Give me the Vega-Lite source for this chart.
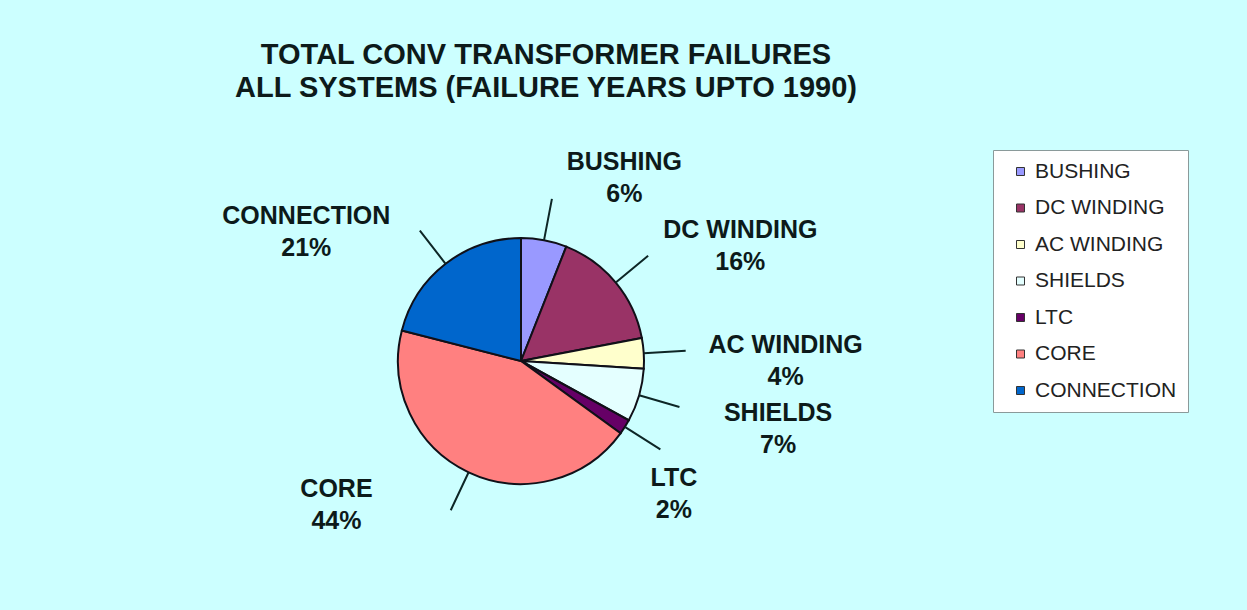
{
  "$schema": "https://vega.github.io/schema/vega-lite/v6.json",
  "width": 1042,
  "height": 498,
  "autosize": {"type": "none"},
  "padding": {"left": 0, "top": 112, "right": 205, "bottom": 0},
  "background": "#CCFFFF",
  "title": {
    "text": ["TOTAL CONV TRANSFORMER FAILURES", "ALL SYSTEMS (FAILURE YEARS UPTO 1990)"],
    "font": "Liberation Sans",
    "fontSize": 29,
    "fontWeight": "bold",
    "color": "#0d1a1a",
    "lineHeight": 33,
    "anchor": "middle",
    "frame": "group",
    "dx": 25,
    "offset": 9
  },
  "data": {
    "values": [
      {"category": "BUSHING", "share": 0.06, "order": 1},
      {"category": "DC WINDING", "share": 0.16, "order": 2},
      {"category": "AC WINDING", "share": 0.04, "order": 3},
      {"category": "SHIELDS", "share": 0.07, "order": 4},
      {"category": "LTC", "share": 0.02, "order": 5},
      {"category": "CORE", "share": 0.44, "order": 6},
      {"category": "CONNECTION", "share": 0.21, "order": 7}
    ]
  },
  "encoding": {
    "theta": {"field": "share", "type": "quantitative", "stack": true},
    "order": {"field": "order", "type": "quantitative"}
  },
  "layer": [
    {
      "mark": {"type": "arc", "radius": 123, "stroke": "#101018", "strokeWidth": 2},
      "encoding": {
        "color": {
          "field": "category",
          "type": "nominal",
          "scale": {
            "domain": ["BUSHING", "DC WINDING", "AC WINDING", "SHIELDS", "LTC", "CORE", "CONNECTION"],
            "range": ["#9999FF", "#993366", "#FFFFCC", "#E4FFFF", "#660066", "#FF8080", "#0066CC"]
          },
          "legend": {
            "title": null,
            "orient": "none",
            "legendX": 993,
            "legendY": 38,
            "fillColor": "#FFFFFF",
            "strokeColor": "#8a9a9a",
            "padding": 11,
            "symbolType": "square",
            "symbolSize": 64,
            "symbolStrokeColor": "#333333",
            "symbolStrokeWidth": 1,
            "symbolOffset": 6,
            "labelFont": "Liberation Sans",
            "labelFontSize": 21,
            "labelColor": "#222222",
            "labelOffset": 4,
            "rowPadding": 14.5
          }
        }
      }
    },
    {
      "mark": {"type": "arc", "radius": 165, "innerRadius": 123, "padAngle": 3.1416, "filled": false, "stroke": "#0d2626", "strokeWidth": 2},
      "encoding": {"detail": {"field": "category", "type": "nominal"}}
    },
    {
      "mark": {"type": "text", "radius": 199, "dx": 66, "dy": -4, "font": "Liberation Sans", "fontSize": 25, "fontWeight": "bold", "fill": "#0d1a1a", "align": "center", "baseline": "middle"},
      "encoding": {
        "detail": {"field": "category", "type": "nominal"},
        "text": {"field": "category", "type": "nominal"},
        "opacity": {"condition": {"test": "datum.order <= 4", "value": 1}, "value": 0}
      }
    },
    {
      "mark": {"type": "text", "radius": 199, "dx": 66, "dy": 28, "font": "Liberation Sans", "fontSize": 25, "fontWeight": "bold", "fill": "#0d1a1a", "align": "center", "baseline": "middle"},
      "encoding": {
        "detail": {"field": "category", "type": "nominal"},
        "text": {"field": "share", "type": "quantitative", "format": ".0%"},
        "opacity": {"condition": {"test": "datum.order <= 4", "value": 1}, "value": 0}
      }
    },
    {
      "mark": {"type": "text", "radius": 200, "dx": -16, "dy": 10, "font": "Liberation Sans", "fontSize": 25, "fontWeight": "bold", "fill": "#0d1a1a", "align": "center", "baseline": "middle"},
      "encoding": {
        "detail": {"field": "category", "type": "nominal"},
        "text": {"field": "category", "type": "nominal"},
        "opacity": {"condition": {"test": "datum.order == 5", "value": 1}, "value": 0}
      }
    },
    {
      "mark": {"type": "text", "radius": 200, "dx": -16, "dy": 42, "font": "Liberation Sans", "fontSize": 25, "fontWeight": "bold", "fill": "#0d1a1a", "align": "center", "baseline": "middle"},
      "encoding": {
        "detail": {"field": "category", "type": "nominal"},
        "text": {"field": "share", "type": "quantitative", "format": ".0%"},
        "opacity": {"condition": {"test": "datum.order == 5", "value": 1}, "value": 0}
      }
    },
    {
      "mark": {"type": "text", "radius": 161, "dx": -116, "dy": -18, "font": "Liberation Sans", "fontSize": 25, "fontWeight": "bold", "fill": "#0d1a1a", "align": "center", "baseline": "middle"},
      "encoding": {
        "detail": {"field": "category", "type": "nominal"},
        "text": {"field": "category", "type": "nominal"},
        "opacity": {"condition": {"test": "datum.order >= 6", "value": 1}, "value": 0}
      }
    },
    {
      "mark": {"type": "text", "radius": 161, "dx": -116, "dy": 14, "font": "Liberation Sans", "fontSize": 25, "fontWeight": "bold", "fill": "#0d1a1a", "align": "center", "baseline": "middle"},
      "encoding": {
        "detail": {"field": "category", "type": "nominal"},
        "text": {"field": "share", "type": "quantitative", "format": ".0%"},
        "opacity": {"condition": {"test": "datum.order >= 6", "value": 1}, "value": 0}
      }
    }
  ],
  "config": {
    "view": {"stroke": null}
  }
}
